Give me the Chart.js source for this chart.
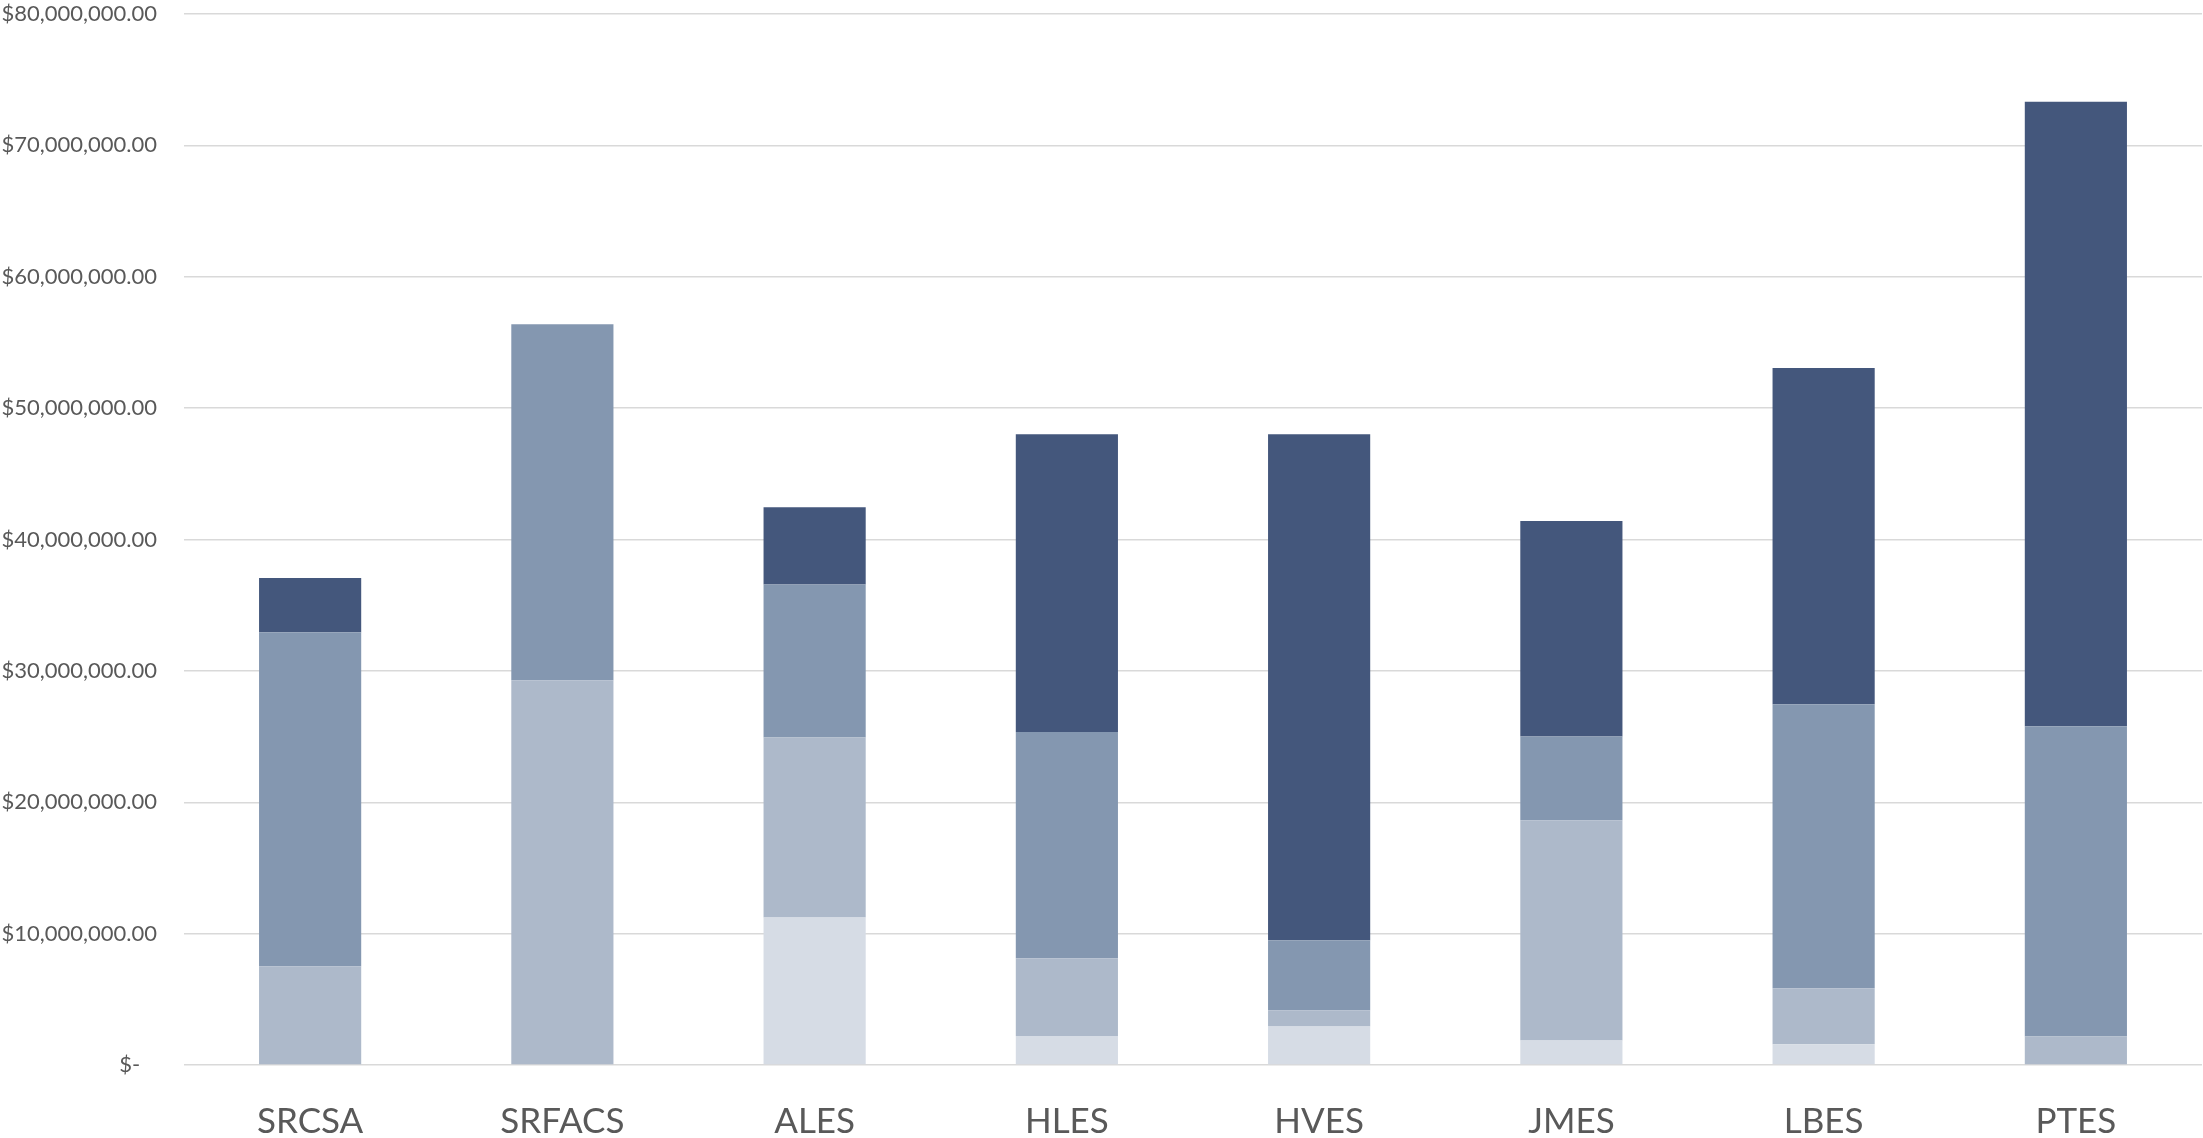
<!DOCTYPE html>
<html>
<head>
<meta charset="utf-8">
<script src="https://cdn.jsdelivr.net/npm/chart.js@4"></script>
<style>
  html, body { margin: 0; padding: 0; background: #ffffff; overflow: hidden; }
  #wrap { width: 2203px; height: 1138px; }
</style>
</head>
<body>
<div id="wrap"><canvas id="c" width="2203" height="1138"></canvas></div>
<script>
// ---- Data (USD) ----
const categories = ['SRCSA', 'SRFACS', 'ALES', 'HLES', 'HVES', 'JMES', 'LBES', 'PTES'];
const seriesLightest = [0, 0, 11230000, 2200000, 2940000, 1870000, 1580000, 0];
const seriesLight    = [7510000, 29290000, 13690000, 5920000, 1220000, 16760000, 4270000, 2160000];
const seriesMid      = [25430000, 27100000, 11660000, 17230000, 5330000, 6370000, 21610000, 23630000];
const seriesDark     = [4130000, 0, 5880000, 22670000, 38530000, 16400000, 25600000, 47540000];
const yTicks = [0, 10000000, 20000000, 30000000, 40000000, 50000000, 60000000, 70000000, 80000000];

function fmt(v) {
  if (v === 0) return '$-\u00a0\u00a0\u00a0';
  return '$' + v.toLocaleString('en-US', { minimumFractionDigits: 2, maximumFractionDigits: 2 });
}

const mk = (label, data, color) => ({
  label, data, backgroundColor: color, borderWidth: 0,
  categoryPercentage: 1.0, barPercentage: 0.405
});

new Chart(document.getElementById('c'), {
  type: 'bar',
  data: {
    labels: categories,
    datasets: [
      mk('Series 1', seriesLightest, '#D6DCE5'),
      mk('Series 2', seriesLight, '#ADB9CA'),
      mk('Series 3', seriesMid, '#8497B0'),
      mk('Series 4', seriesDark, '#44577C')
    ]
  },
  options: {
    responsive: false,
    animation: false,
    devicePixelRatio: 1,
    layout: { padding: { top: 14, right: 1, left: 0, bottom: 0 } },
    plugins: { legend: { display: false }, tooltip: { enabled: false } },
    scales: {
      x: {
        stacked: true,
        grid: { display: false, drawTicks: false },
        border: { display: false },
        ticks: {
          color: '#595959',
          font: { family: 'Lato', size: 35 },
          padding: 36,
          maxRotation: 0
        },
        afterFit: (s) => { s.height = 73; s.paddingLeft = 0; s.paddingRight = 0; }
      },
      y: {
        stacked: true,
        min: 0, max: 80000000,
        afterBuildTicks: (s) => { s.ticks = yTicks.map(v => ({ value: v })); },
        grid: { color: '#D9D9D9', lineWidth: 1.4, drawTicks: false },
        border: { display: false },
        ticks: {
          color: '#595959',
          font: { family: 'Lato', size: 22 },
          padding: 27,
          callback: (v) => fmt(v)
        },
        afterFit: (s) => { s.width = 184; s.paddingTop = 0; s.paddingBottom = 0; }
      }
    }
  }
});
</script>
</body>
</html>
